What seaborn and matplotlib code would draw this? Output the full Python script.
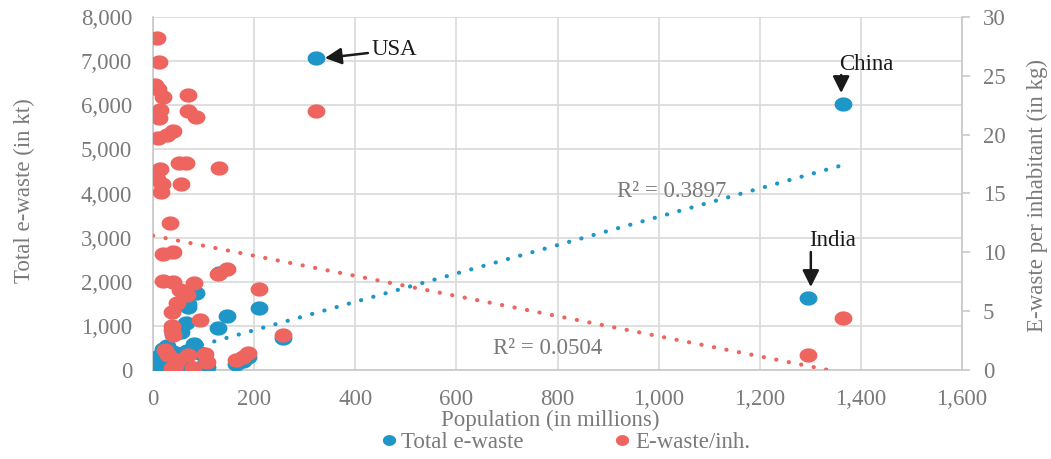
import numpy as np
import pandas as pd
import matplotlib
matplotlib.use('Agg')
import matplotlib.pyplot as plt
import seaborn as sns
from matplotlib.lines import Line2D
from matplotlib.ticker import FuncFormatter

# valores (pop em milhoes, total em kt, kg por habitante)
population = [322, 1365, 1295, 130, 86, 70, 70, 209, 147, 128, 66, 257,
              52, 55, 40, 27, 81, 53, 67, 47, 93,
              40, 34, 20, 20, 40, 37, 37, 40, 38,
              30, 50, 70, 103, 37, 80, 106, 165, 188, 178, 24, 43,
              8.5, 12.5, 10.5, 20.4, 13.8, 11.9, 10.5, 13.8, 7.3, 17.2, 15.2, 4]
total_kt = [7070, 6030, 1635, 2200, 1750, 1500, 1420, 1410, 1225, 955, 1070, 735,
            900, 860, 810, 540, 580, 360, 430, 270, 395,
            400, 425, 200, 155, 300, 180, 137, 120, 130,
            40, 43, 90, 145, 6, 12, 75, 140, 290, 195, 40, 13,
            240, 328, 251, 473, 305, 255, 207, 236, 118, 272, 230, 45]
per_inh = [22.0, 4.4, 1.3, 17.2, 21.5, 23.4, 22.0, 6.9, 8.6, 8.2, 17.6, 3.0,
           17.6, 15.8, 20.3, 20.0, 7.4, 6.8, 6.4, 5.7, 4.25,
           10.0, 12.5, 9.9, 7.6, 7.5, 4.9, 3.7, 3.0, 3.4,
           1.3, 0.85, 1.3, 1.4, 0.15, 0.15, 0.7, 0.85, 1.45, 1.1, 1.7, 0.3,
           28.2, 26.2, 23.9, 23.2, 22.1, 21.4, 19.7, 17.1, 16.2, 15.8, 15.1, 24.2]

# linhas de tendencia (extremos)
trend_x = [0, 1365]
trend_total = [259, 4646]
trend_inh = [11.42, -0.25]

legend_labels = ['Total e-waste', 'E-waste/inh.']

df = pd.DataFrame({'population': population, 'total_kt': total_kt, 'per_inh': per_inh})

blue = '#1E96C8'
red = '#EE645F'
gray = '#7a7a7a'
grid_c = '#d9d9d9'
fs = 16.5

sns.set_theme(style='white')
plt.rcParams['font.family'] = ['Liberation Serif', 'DejaVu Serif']

# marcador eliptico (a figura original esta esticada na horizontal)
theta = np.linspace(0, 2 * np.pi, 60)
ellipse = np.column_stack([np.cos(theta), 0.8 * np.sin(theta)])

fig = plt.figure(figsize=(10.51, 4.59), dpi=100)
ax1 = fig.add_axes([153 / 1051, 1 - 370 / 459, 809 / 1051, 353 / 459])
ax2 = ax1.twinx()

ax1.plot(trend_x, trend_total, color=blue, lw=3, linestyle=(0, (0.05, 3.0)),
         dash_capstyle='round', zorder=2)
sns.scatterplot(data=df, x='population', y='total_kt', ax=ax1, color=blue,
                marker=ellipse, s=165, linewidth=0, zorder=3, legend=False)
ax2.plot(trend_x, trend_inh, color=red, lw=3, linestyle=(0, (0.05, 3.0)),
         dash_capstyle='round', zorder=2)
sns.scatterplot(data=df, x='population', y='per_inh', ax=ax2, color=red,
                marker=ellipse, s=165, linewidth=0, zorder=3, legend=False)

ax1.set_xlim(0, 1600)
ax1.set_ylim(0, 8000)
ax2.set_ylim(0, 30)
ax1.set_xticks(range(0, 1601, 200))
ax1.set_yticks(range(0, 8001, 1000))
ax2.set_yticks(range(0, 31, 5))
fmt = FuncFormatter(lambda v, p: f'{int(v):,}')
ax1.xaxis.set_major_formatter(fmt)
ax1.yaxis.set_major_formatter(fmt)

ax1.grid(True, color=grid_c, lw=1.2)
ax1.set_axisbelow(True)
ax2.grid(False)
for s in ['top', 'right']:
    ax1.spines[s].set_visible(False)
for s in ['left', 'bottom']:
    ax1.spines[s].set_color('#c8c8c8')
    ax1.spines[s].set_linewidth(1.2)
for s in ['top', 'left', 'bottom']:
    ax2.spines[s].set_visible(False)
ax2.spines['right'].set_color('#c8c8c8')
ax2.spines['right'].set_linewidth(1.2)

ax1.tick_params(axis='x', length=0, pad=13.5, labelsize=fs, labelcolor=gray)
ax1.tick_params(axis='y', length=0, pad=15, labelsize=fs, labelcolor=gray)
ax2.tick_params(axis='y', length=6, width=1.2, color='#c8c8c8', pad=9,
                labelsize=fs, labelcolor=gray)

ax1.set_xlabel('Population (in millions)', fontsize=fs, color=gray)
ax1.set_ylabel('Total e-waste (in kt)', fontsize=fs, color=gray)
ax2.set_ylabel('E-waste per inhabitant (in kg)', fontsize=fs, color=gray)
ax1.xaxis.set_label_coords(0.491, -0.113)
ax1.yaxis.set_label_coords(-0.146, 0.507)
ax2.yaxis.set_label_coords(1.080, 0.493)

# R2
ax1.text(1025, 4056, 'R² = 0.3897', fontsize=fs, color=gray, ha='center', va='center')
ax1.text(780, 498, 'R² = 0.0504', fontsize=fs, color=gray, ha='center', va='center')

# paises destacados
arrow = dict(arrowstyle='-|>,head_length=0.5,head_width=0.25', color='#1a1a1a',
             lw=1.8, mutation_scale=20, shrinkA=0, shrinkB=0)
ax1.annotate('', xy=(340, 7070), xytext=(425, 7183), arrowprops=arrow)
ax1.text(433, 7274, 'USA', fontsize=fs, color='#1a1a1a', ha='left', va='center')
ax1.annotate('', xy=(1361, 6277), xytext=(1361, 6685), arrowprops=arrow)
ax1.text(1357, 6934, 'China', fontsize=fs, color='#1a1a1a', ha='left', va='center')
ax1.annotate('', xy=(1301, 1881), xytext=(1301, 2674), arrowprops=arrow)
ax1.text(1297, 2946, 'India', fontsize=fs, color='#1a1a1a', ha='left', va='center')

handles = [Line2D([], [], marker=ellipse, color=c, linestyle='none', markersize=8.5)
           for c in [blue, red]]
fig.legend(handles, legend_labels, loc='center', bbox_to_anchor=(0.5385, 0.035),
           ncol=2, frameon=False, fontsize=fs, labelcolor=gray, handlelength=0.6,
           handletextpad=0.25, columnspacing=4.0, borderaxespad=0)

fig.savefig('out.png', dpi=100)
